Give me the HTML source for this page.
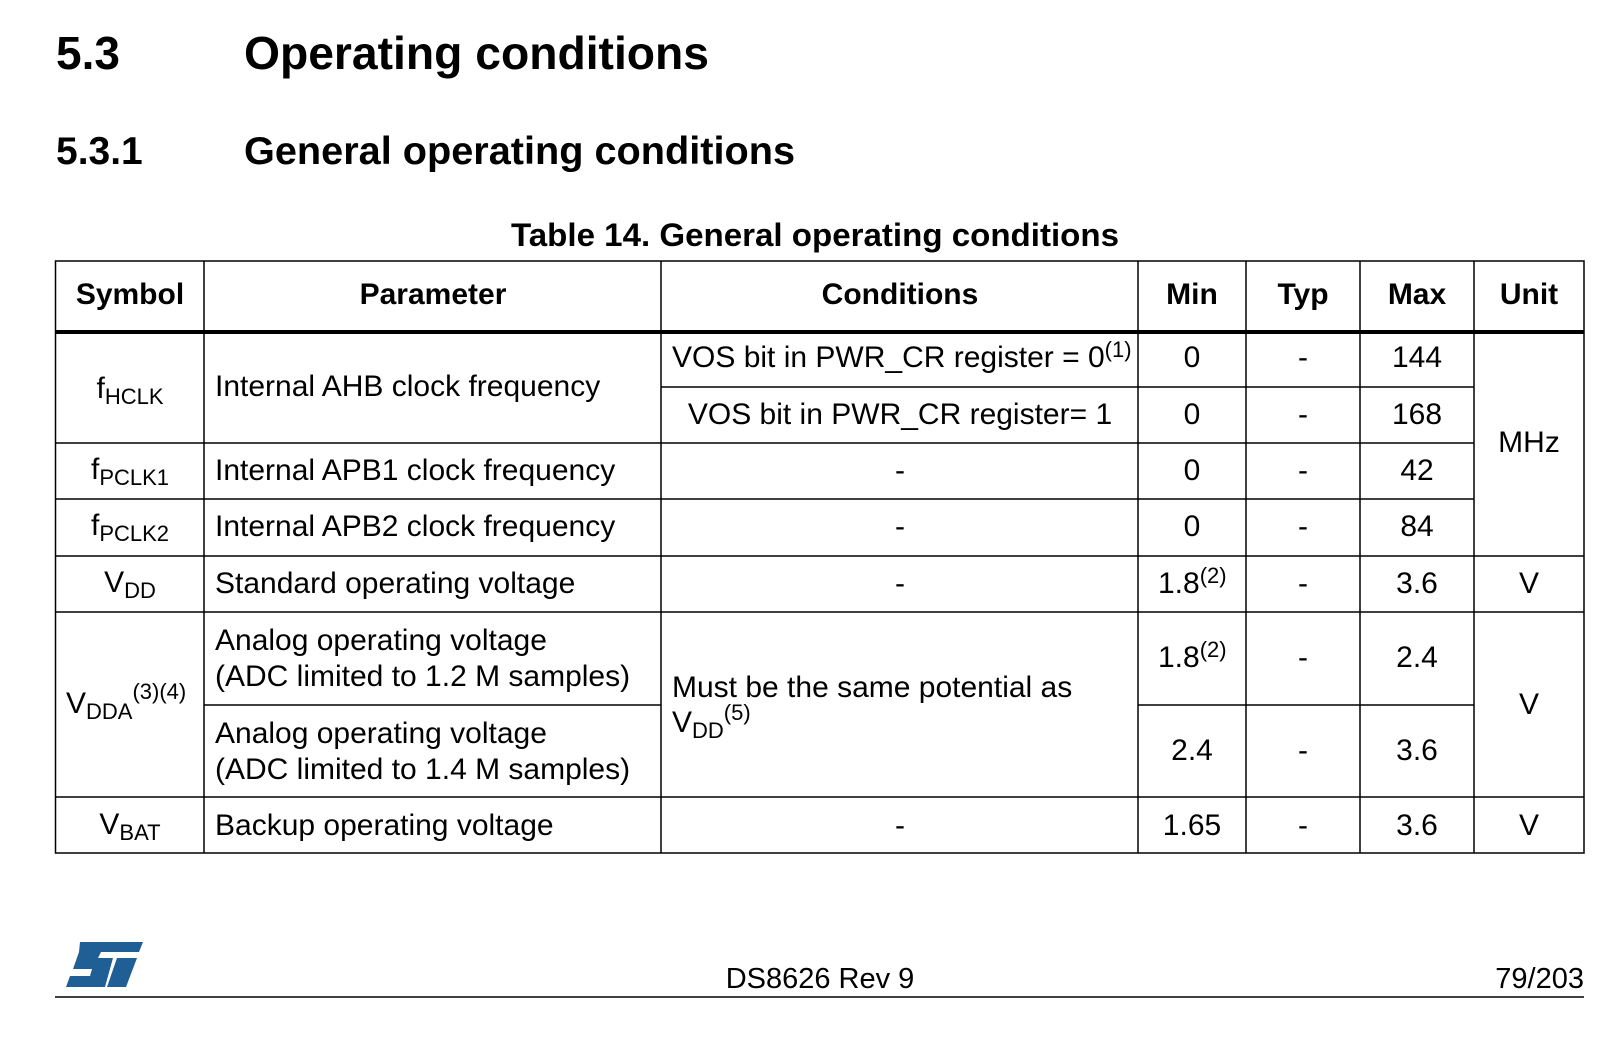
<!DOCTYPE html>
<html><head><meta charset="utf-8"><style>
html,body{margin:0;padding:0;background:#fff;}
svg{display:block;font-family:"Liberation Sans",Arial,sans-serif;}
</style></head><body>
<svg width="1610" height="1060" viewBox="0 0 1610 1060" xmlns="http://www.w3.org/2000/svg">
<g fill="#000">
<text x="56" y="69" font-size="46" font-weight="bold">5.3</text>
<text x="244" y="69" font-size="46" font-weight="bold" textLength="465" lengthAdjust="spacingAndGlyphs">Operating conditions</text>
<text x="56" y="164" font-size="39" font-weight="bold">5.3.1</text>
<text x="244" y="164" font-size="39" font-weight="bold" textLength="551" lengthAdjust="spacingAndGlyphs">General operating conditions</text>
<text x="815" y="246" font-size="32" font-weight="bold" text-anchor="middle" textLength="608" lengthAdjust="spacingAndGlyphs">Table 14. General operating conditions</text>
</g>
<g stroke="#000" stroke-width="1.5" fill="none">
<rect x="55.5" y="261" width="1528.5" height="592"/>
<line x1="204" y1="261" x2="204" y2="853"/>
<line x1="661" y1="261" x2="661" y2="853"/>
<line x1="1138" y1="261" x2="1138" y2="853"/>
<line x1="1246" y1="261" x2="1246" y2="853"/>
<line x1="1360" y1="261" x2="1360" y2="853"/>
<line x1="1474" y1="261" x2="1474" y2="853"/>
<line x1="55" y1="332" x2="1584" y2="332" stroke-width="4"/>
<line x1="661" y1="387" x2="1474" y2="387"/>
<line x1="55" y1="443" x2="1474" y2="443"/>
<line x1="55" y1="499" x2="1474" y2="499"/>
<line x1="55" y1="556" x2="1584" y2="556"/>
<line x1="55" y1="612" x2="1584" y2="612"/>
<line x1="204" y1="705" x2="661" y2="705"/>
<line x1="1138" y1="705" x2="1474" y2="705"/>
<line x1="55" y1="797" x2="1584" y2="797"/>
</g>
<g font-size="30" fill="#000">
<text x="130" y="304" text-anchor="middle" font-weight="bold">Symbol</text>
<text x="433" y="304" text-anchor="middle" font-weight="bold">Parameter</text>
<text x="900" y="304" text-anchor="middle" font-weight="bold">Conditions</text>
<text x="1192" y="304" text-anchor="middle" font-weight="bold">Min</text>
<text x="1303" y="304" text-anchor="middle" font-weight="bold">Typ</text>
<text x="1417" y="304" text-anchor="middle" font-weight="bold">Max</text>
<text x="1529" y="304" text-anchor="middle" font-weight="bold">Unit</text>
</g>
<g font-size="30" fill="#000">
<text x="130" y="398" text-anchor="middle">f<tspan font-size="22" dy="6">HCLK</tspan></text>
<text x="215" y="396">Internal AHB clock frequency</text>
<text x="672" y="367">VOS bit in PWR_CR register = 0<tspan font-size="22" dy="-10">(1)</tspan></text>
<text x="900" y="424" text-anchor="middle">VOS bit in PWR_CR register= 1</text>
<text x="1192" y="367" text-anchor="middle">0</text><text x="1303" y="367" text-anchor="middle">-</text><text x="1417" y="367" text-anchor="middle">144</text>
<text x="1192" y="424" text-anchor="middle">0</text><text x="1303" y="424" text-anchor="middle">-</text><text x="1417" y="424" text-anchor="middle">168</text>
<text x="1529" y="452" text-anchor="middle">MHz</text>

<text x="130" y="479" text-anchor="middle">f<tspan font-size="22" dy="6">PCLK1</tspan></text>
<text x="215" y="480">Internal APB1 clock frequency</text>
<text x="900" y="480" text-anchor="middle">-</text>
<text x="1192" y="480" text-anchor="middle">0</text><text x="1303" y="480" text-anchor="middle">-</text><text x="1417" y="480" text-anchor="middle">42</text>

<text x="130" y="535" text-anchor="middle">f<tspan font-size="22" dy="6">PCLK2</tspan></text>
<text x="215" y="536">Internal APB2 clock frequency</text>
<text x="900" y="536" text-anchor="middle">-</text>
<text x="1192" y="536" text-anchor="middle">0</text><text x="1303" y="536" text-anchor="middle">-</text><text x="1417" y="536" text-anchor="middle">84</text>

<text x="130" y="592" text-anchor="middle">V<tspan font-size="22" dy="6">DD</tspan></text>
<text x="215" y="593">Standard operating voltage</text>
<text x="900" y="593" text-anchor="middle">-</text>
<text x="1158" y="593">1.8<tspan font-size="22" dy="-10">(2)</tspan></text>
<text x="1303" y="593" text-anchor="middle">-</text><text x="1417" y="593" text-anchor="middle">3.6</text>
<text x="1529" y="593" text-anchor="middle">V</text>

<text x="66" y="713">V<tspan font-size="22" dy="6">DDA</tspan><tspan font-size="22" dy="-20">(3)(4)</tspan></text>
<text x="215" y="650">Analog operating voltage</text>
<text x="215" y="686">(ADC limited to 1.2 M samples)</text>
<text x="215" y="743">Analog operating voltage</text>
<text x="215" y="779">(ADC limited to 1.4 M samples)</text>
<text x="672" y="697">Must be the same potential as</text>
<text x="672" y="732">V<tspan font-size="22" dy="6">DD</tspan><tspan font-size="22" dy="-18">(5)</tspan></text>
<text x="1158" y="667">1.8<tspan font-size="22" dy="-10">(2)</tspan></text>
<text x="1303" y="667" text-anchor="middle">-</text><text x="1417" y="667" text-anchor="middle">2.4</text>
<text x="1192" y="760" text-anchor="middle">2.4</text>
<text x="1303" y="760" text-anchor="middle">-</text><text x="1417" y="760" text-anchor="middle">3.6</text>
<text x="1529" y="714" text-anchor="middle">V</text>

<text x="130" y="834" text-anchor="middle">V<tspan font-size="22" dy="6">BAT</tspan></text>
<text x="215" y="835">Backup operating voltage</text>
<text x="900" y="835" text-anchor="middle">-</text>
<text x="1192" y="835" text-anchor="middle">1.65</text>
<text x="1303" y="835" text-anchor="middle">-</text><text x="1417" y="835" text-anchor="middle">3.6</text>
<text x="1529" y="835" text-anchor="middle">V</text>
</g>
<g fill="#1f5f96">
<polygon points="80,942 143,942 139,952 101,952 98,958 113,958 105,987 66,987 70,976 90,976 92,969 73,969 79,952"/>
<polygon points="117,958 137,958 126,987 107,987"/>
</g>
<text x="820" y="988" font-size="29" text-anchor="middle" fill="#000">DS8626 Rev 9</text>
<text x="1584" y="988" font-size="29" text-anchor="end" fill="#000">79/203</text>
<line x1="55" y1="997" x2="1584" y2="997" stroke="#000" stroke-width="1.5"/>
</svg>
</body></html>
